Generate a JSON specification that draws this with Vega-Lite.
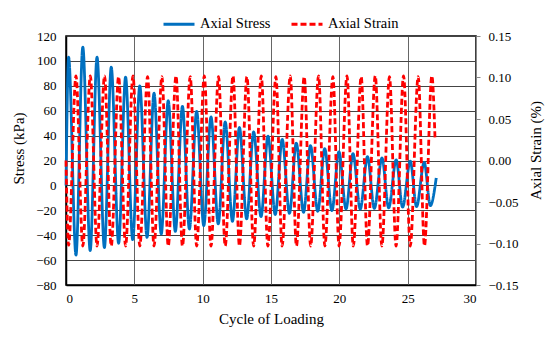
{
  "$schema": "https://vega.github.io/schema/vega-lite/v6.json",
  "width": 410,
  "height": 249,
  "autosize": {"type": "none"},
  "padding": {"left": 66, "top": 36, "right": 74, "bottom": 55},
  "background": "white",
  "config": {
    "font": "Liberation Serif",
    "view": {"stroke": "#000", "strokeWidth": 1.5},
    "axis": {"labelFont": "Liberation Serif", "titleFont": "Liberation Serif", "labelColor": "#000", "titleColor": "#000", "titleFontWeight": "normal", "labelFontSize": 13, "titleFontSize": 15},
    "legend": {"labelFont": "Liberation Serif", "labelFontSize": 14.5, "labelColor": "#000"}
  },
  "datasets": {
    "stress": [
      {"x": 0, "v": 0, "s": "Axial Stress"},
      {"x": 0.19, "v": 103, "s": "Axial Stress"},
      {"x": 0.73, "v": -56, "s": "Axial Stress"},
      {"x": 1.23, "v": 111, "s": "Axial Stress"},
      {"x": 1.77, "v": -52.4, "s": "Axial Stress"},
      {"x": 2.27, "v": 103, "s": "Axial Stress"},
      {"x": 2.81, "v": -50, "s": "Axial Stress"},
      {"x": 3.31, "v": 95, "s": "Axial Stress"},
      {"x": 3.85, "v": -46.5, "s": "Axial Stress"},
      {"x": 4.36, "v": 87, "s": "Axial Stress"},
      {"x": 4.88, "v": -43.6, "s": "Axial Stress"},
      {"x": 5.40, "v": 80, "s": "Axial Stress"},
      {"x": 5.93, "v": -41.7, "s": "Axial Stress"},
      {"x": 6.44, "v": 74, "s": "Axial Stress"},
      {"x": 6.97, "v": -39, "s": "Axial Stress"},
      {"x": 7.48, "v": 68, "s": "Axial Stress"},
      {"x": 8.00, "v": -37, "s": "Axial Stress"},
      {"x": 8.52, "v": 63.5, "s": "Axial Stress"},
      {"x": 9.03, "v": -35, "s": "Axial Stress"},
      {"x": 9.56, "v": 59.5, "s": "Axial Stress"},
      {"x": 10.08, "v": -32.3, "s": "Axial Stress"},
      {"x": 10.61, "v": 55, "s": "Axial Stress"},
      {"x": 11.14, "v": -30.9, "s": "Axial Stress"},
      {"x": 11.65, "v": 51, "s": "Axial Stress"},
      {"x": 12.18, "v": -28.8, "s": "Axial Stress"},
      {"x": 12.69, "v": 46.5, "s": "Axial Stress"},
      {"x": 13.22, "v": -26.9, "s": "Axial Stress"},
      {"x": 13.73, "v": 43, "s": "Axial Stress"},
      {"x": 14.27, "v": -25.1, "s": "Axial Stress"},
      {"x": 14.78, "v": 39.5, "s": "Axial Stress"},
      {"x": 15.31, "v": -23.4, "s": "Axial Stress"},
      {"x": 15.82, "v": 37, "s": "Axial Stress"},
      {"x": 16.35, "v": -22.4, "s": "Axial Stress"},
      {"x": 16.85, "v": 34, "s": "Axial Stress"},
      {"x": 17.38, "v": -21.6, "s": "Axial Stress"},
      {"x": 17.89, "v": 32, "s": "Axial Stress"},
      {"x": 18.42, "v": -20.8, "s": "Axial Stress"},
      {"x": 18.93, "v": 29.5, "s": "Axial Stress"},
      {"x": 19.46, "v": -20.2, "s": "Axial Stress"},
      {"x": 19.97, "v": 27, "s": "Axial Stress"},
      {"x": 20.49, "v": -18.9, "s": "Axial Stress"},
      {"x": 21.00, "v": 25.5, "s": "Axial Stress"},
      {"x": 21.53, "v": -19, "s": "Axial Stress"},
      {"x": 22.06, "v": 23, "s": "Axial Stress"},
      {"x": 22.56, "v": -18.5, "s": "Axial Stress"},
      {"x": 23.12, "v": 22, "s": "Axial Stress"},
      {"x": 23.61, "v": -18, "s": "Axial Stress"},
      {"x": 24.16, "v": 20.5, "s": "Axial Stress"},
      {"x": 24.63, "v": -17.5, "s": "Axial Stress"},
      {"x": 25.19, "v": 19.5, "s": "Axial Stress"},
      {"x": 25.65, "v": -17, "s": "Axial Stress"},
      {"x": 26.21, "v": 18.5, "s": "Axial Stress"},
      {"x": 26.66, "v": -16.2, "s": "Axial Stress"},
      {"x": 27.09, "v": 6, "s": "Axial Stress"}
    ],
    "strain": [
      {"x": 0, "v": 0, "s": "Axial Strain"},
      {"x": 0.19, "v": -0.102, "s": "Axial Strain"},
      {"x": 0.73, "v": 0.102, "s": "Axial Strain"},
      {"x": 1.23, "v": -0.103, "s": "Axial Strain"},
      {"x": 1.78, "v": 0.102, "s": "Axial Strain"},
      {"x": 2.27, "v": -0.103, "s": "Axial Strain"},
      {"x": 2.82, "v": 0.102, "s": "Axial Strain"},
      {"x": 3.31, "v": -0.103, "s": "Axial Strain"},
      {"x": 3.85, "v": 0.101, "s": "Axial Strain"},
      {"x": 4.36, "v": -0.103, "s": "Axial Strain"},
      {"x": 4.90, "v": 0.102, "s": "Axial Strain"},
      {"x": 5.40, "v": -0.103, "s": "Axial Strain"},
      {"x": 5.97, "v": 0.101, "s": "Axial Strain"},
      {"x": 6.44, "v": -0.103, "s": "Axial Strain"},
      {"x": 7.02, "v": 0.101, "s": "Axial Strain"},
      {"x": 7.48, "v": -0.103, "s": "Axial Strain"},
      {"x": 8.05, "v": 0.102, "s": "Axial Strain"},
      {"x": 8.52, "v": -0.103, "s": "Axial Strain"},
      {"x": 9.09, "v": 0.101, "s": "Axial Strain"},
      {"x": 9.56, "v": -0.103, "s": "Axial Strain"},
      {"x": 10.12, "v": 0.102, "s": "Axial Strain"},
      {"x": 10.61, "v": -0.103, "s": "Axial Strain"},
      {"x": 11.16, "v": 0.101, "s": "Axial Strain"},
      {"x": 11.65, "v": -0.103, "s": "Axial Strain"},
      {"x": 12.22, "v": 0.102, "s": "Axial Strain"},
      {"x": 12.69, "v": -0.103, "s": "Axial Strain"},
      {"x": 13.24, "v": 0.101, "s": "Axial Strain"},
      {"x": 13.73, "v": -0.103, "s": "Axial Strain"},
      {"x": 14.29, "v": 0.102, "s": "Axial Strain"},
      {"x": 14.77, "v": -0.103, "s": "Axial Strain"},
      {"x": 15.36, "v": 0.101, "s": "Axial Strain"},
      {"x": 15.81, "v": -0.103, "s": "Axial Strain"},
      {"x": 16.41, "v": 0.102, "s": "Axial Strain"},
      {"x": 16.86, "v": -0.103, "s": "Axial Strain"},
      {"x": 17.43, "v": 0.101, "s": "Axial Strain"},
      {"x": 17.90, "v": -0.103, "s": "Axial Strain"},
      {"x": 18.48, "v": 0.102, "s": "Axial Strain"},
      {"x": 18.94, "v": -0.103, "s": "Axial Strain"},
      {"x": 19.53, "v": 0.101, "s": "Axial Strain"},
      {"x": 19.98, "v": -0.103, "s": "Axial Strain"},
      {"x": 20.56, "v": 0.102, "s": "Axial Strain"},
      {"x": 21.02, "v": -0.103, "s": "Axial Strain"},
      {"x": 21.60, "v": 0.101, "s": "Axial Strain"},
      {"x": 22.06, "v": -0.103, "s": "Axial Strain"},
      {"x": 22.63, "v": 0.102, "s": "Axial Strain"},
      {"x": 23.11, "v": -0.103, "s": "Axial Strain"},
      {"x": 23.67, "v": 0.101, "s": "Axial Strain"},
      {"x": 24.15, "v": -0.103, "s": "Axial Strain"},
      {"x": 24.70, "v": 0.102, "s": "Axial Strain"},
      {"x": 25.19, "v": -0.103, "s": "Axial Strain"},
      {"x": 25.77, "v": 0.101, "s": "Axial Strain"},
      {"x": 26.23, "v": -0.103, "s": "Axial Strain"},
      {"x": 26.77, "v": 0.102, "s": "Axial Strain"},
      {"x": 27.00, "v": 0.027, "s": "Axial Strain"}
    ]
  },
  "encoding": {
    "x": {
      "field": "x", "type": "quantitative",
      "scale": {"domain": [0, 30], "nice": false},
      "axis": {"values": [0, 5, 10, 15, 20, 25, 30], "title": "Cycle of Loading", "grid": true, "gridColor": "#666", "gridWidth": 1, "ticks": false, "domainColor": "#000", "domainWidth": 1.5, "labelPadding": 7, "titlePadding": 6}
    },
    "color": {
      "field": "s", "type": "nominal",
      "scale": {"domain": ["Axial Stress", "Axial Strain"], "range": ["#0070C0", "#FF0000"]},
      "legend": {"title": null, "orient": "none", "legendX": 96, "legendY": -29, "direction": "horizontal", "symbolType": "stroke", "symbolSize": 961, "symbolStrokeWidth": 3, "columnPadding": 14, "labelOffset": 4}
    },
    "strokeDash": {
      "field": "s", "type": "nominal",
      "scale": {"domain": ["Axial Stress", "Axial Strain"], "range": [[1, 0], [6, 3]]},
      "legend": {"title": null, "orient": "none", "legendX": 96, "legendY": -29, "direction": "horizontal", "symbolType": "stroke", "symbolSize": 961, "symbolStrokeWidth": 3, "columnPadding": 14, "labelOffset": 4}
    }
  },
  "layer": [
    {
      "data": {"name": "stress"},
      "mark": {"type": "line", "strokeWidth": 2.8, "interpolate": "monotone"},
      "encoding": {
        "y": {
          "field": "v", "type": "quantitative",
          "scale": {"domain": [-80, 120], "nice": false},
          "axis": {"values": [-80, -60, -40, -20, 0, 20, 40, 60, 80, 100, 120], "title": "Stress (kPa)", "grid": true, "gridColor": "#444", "gridWidth": 1, "ticks": false, "domainColor": "#000", "domainWidth": 1.5, "labelPadding": 10, "titleAngle": 270, "titleAlign": "center", "titleBaseline": "middle", "titleX": -48, "titleY": 112}
        }
      }
    },
    {
      "data": {"name": "strain"},
      "mark": {"type": "line", "strokeWidth": 2.8, "interpolate": "monotone"},
      "encoding": {
        "y": {
          "field": "v", "type": "quantitative",
          "scale": {"domain": [-0.15, 0.15], "nice": false},
          "axis": {"orient": "right", "values": [-0.15, -0.1, -0.05, 0, 0.05, 0.1, 0.15], "format": ".2f", "title": "Axial Strain (%)", "grid": false, "ticks": true, "tickSize": 4, "tickColor": "#888", "domainColor": "#888", "labelPadding": 8, "titleAngle": 270, "titleAlign": "center", "titleBaseline": "middle", "titleX": 59, "titleY": 114}
        }
      }
    }
  ],
  "resolve": {"scale": {"y": "independent"}}
}
